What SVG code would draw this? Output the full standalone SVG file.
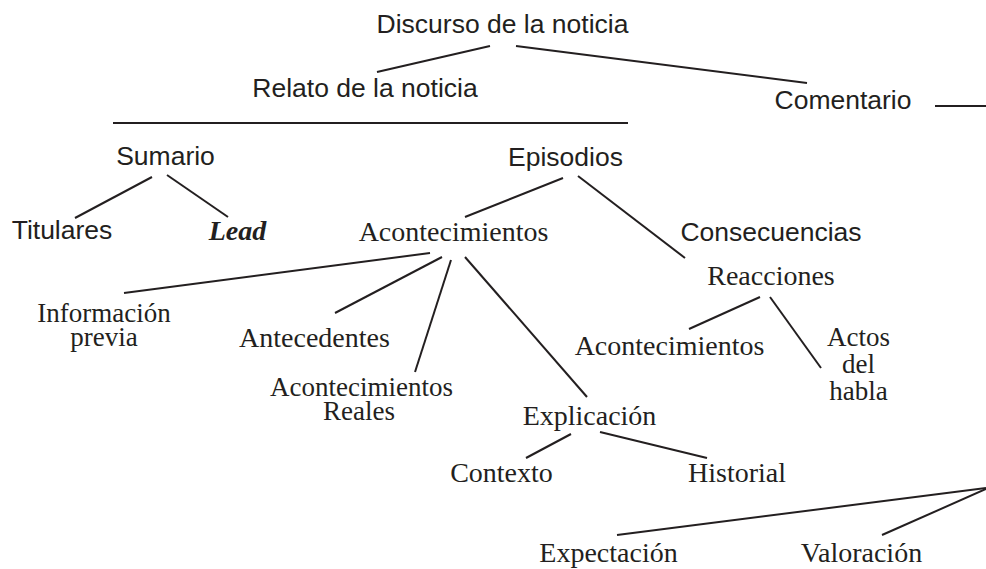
<svg xmlns="http://www.w3.org/2000/svg" width="986" height="569" viewBox="0 0 986 569">
<style>
.s{font-family:"Liberation Sans",Arial,sans-serif;font-size:26.5px;fill:#231f20;text-anchor:middle}
.r{font-family:"Liberation Serif","Times New Roman",serif;font-size:28px;fill:#231f20;text-anchor:middle}
.m{font-size:27px}
.b{font-family:"Liberation Serif","Times New Roman",serif;font-size:28px;font-weight:bold;font-style:italic;fill:#231f20;text-anchor:middle}
#connectors line{stroke:#231f20;stroke-width:2;fill:none}
</style>
<rect width="986" height="569" fill="#ffffff"/>
<g id="connectors">
<line x1="490" y1="46" x2="377" y2="72"/>
<line x1="516" y1="46" x2="807" y2="83"/>
<line x1="113" y1="123" x2="628" y2="123"/>
<line x1="935" y1="106" x2="986" y2="106"/>
<line x1="152" y1="177" x2="75" y2="218"/>
<line x1="167" y1="175" x2="228" y2="217"/>
<line x1="563" y1="178" x2="465" y2="217"/>
<line x1="578" y1="176" x2="685" y2="258"/>
<line x1="430" y1="253" x2="124" y2="293"/>
<line x1="442" y1="257" x2="335" y2="313"/>
<line x1="451" y1="260" x2="415" y2="372"/>
<line x1="465" y1="257" x2="587" y2="397"/>
<line x1="760" y1="297" x2="689" y2="329"/>
<line x1="770" y1="297" x2="821" y2="368"/>
<line x1="571" y1="434" x2="526" y2="458"/>
<line x1="600" y1="432" x2="707" y2="458"/>
<line x1="986" y1="488" x2="617" y2="535"/>
<line x1="986" y1="489" x2="882" y2="535"/>
</g>
<g id="discurso"><text class="s" x="502.5" y="33">Discurso de la noticia</text></g>
<g id="relato"><text class="s" x="365" y="97">Relato de la noticia</text></g>
<g id="comentario"><text class="s" x="843" y="109">Comentario</text></g>
<g id="sumario"><text class="s" x="165.5" y="165">Sumario</text></g>
<g id="episodios"><text class="s" x="565.5" y="166">Episodios</text></g>
<g id="titulares"><text class="s" x="62" y="239">Titulares</text></g>
<g id="lead"><text class="b" x="237.5" y="240">Lead</text></g>
<g id="acontecimientos"><text class="r" x="453.5" y="241">Acontecimientos</text></g>
<g id="consecuencias"><text class="s" x="771" y="241">Consecuencias</text></g>
<g id="reacciones"><text class="r" x="771" y="285">Reacciones</text></g>
<g id="informacion-previa"><text class="r m" x="104" y="322">Información</text><text class="r m" x="104" y="346">previa</text></g>
<g id="antecedentes"><text class="r" x="314.5" y="347">Antecedentes</text></g>
<g id="acontecimientos-reales"><text class="r m" x="361.5" y="396">Acontecimientos</text><text class="r m" x="359" y="420">Reales</text></g>
<g id="acontecimientos-reacciones"><text class="r" x="669.5" y="355">Acontecimientos</text></g>
<g id="actos-del-habla"><text class="r m" x="858.5" y="346">Actos</text><text class="r m" x="858.5" y="373">del</text><text class="r m" x="858.5" y="400">habla</text></g>
<g id="explicacion"><text class="r" x="589.5" y="425">Explicación</text></g>
<g id="contexto"><text class="r" x="501.5" y="482">Contexto</text></g>
<g id="historial"><text class="r" x="737" y="482">Historial</text></g>
<g id="expectacion"><text class="r" x="608.5" y="562">Expectación</text></g>
<g id="valoracion"><text class="r" x="861.5" y="562">Valoración</text></g>
</svg>
